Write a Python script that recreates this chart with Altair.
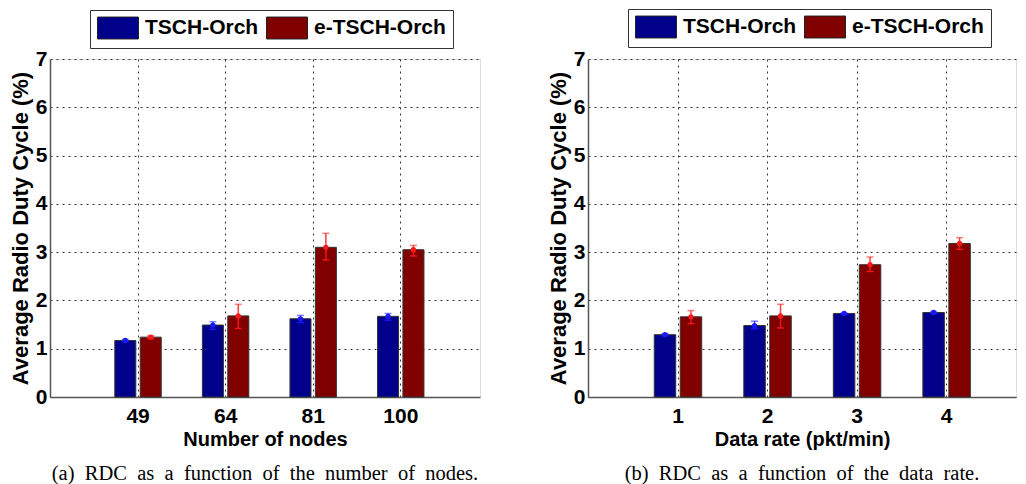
import altair as alt
import pandas as pd

series = ["TSCH-Orch", "e-TSCH-Orch"]
colors = ["#00008B", "#800000"]
err_colors = ["#1a1aff", "#ff1a1a"]

# Panel (a): number of nodes
nodes_labels = ["49", "64", "81", "100"]
nodes_tsch = [1.17, 1.49, 1.62, 1.67]
nodes_tsch_lo = [1.15, 1.40, 1.54, 1.59]
nodes_tsch_hi = [1.19, 1.56, 1.69, 1.73]
nodes_etsch = [1.24, 1.68, 3.10, 3.05]
nodes_etsch_lo = [1.21, 1.42, 2.84, 2.92]
nodes_etsch_hi = [1.27, 1.92, 3.39, 3.14]

# Panel (b): data rate
rate_labels = ["1", "2", "3", "4"]
rate_tsch = [1.29, 1.48, 1.73, 1.75]
rate_tsch_lo = [1.27, 1.41, 1.72, 1.73]
rate_tsch_hi = [1.31, 1.57, 1.74, 1.77]
rate_etsch = [1.66, 1.68, 2.74, 3.18]
rate_etsch_lo = [1.52, 1.43, 2.60, 3.06]
rate_etsch_hi = [1.79, 1.92, 2.90, 3.30]

y_ticks = [0, 1, 2, 3, 4, 5, 6, 7]
SANS = "Liberation Sans"
SERIF = "Liberation Serif"
GRID_DASH = [2, 4]


def panel(labels, tsch, tsch_lo, tsch_hi, et, et_lo, et_hi, xtitle, caption, width, xmax, lx, ly):
    rows = []
    for i, lab in enumerate(labels):
        rows.append(dict(idx=i + 1, label=lab, series=series[0], value=tsch[i], lo=tsch_lo[i], hi=tsch_hi[i]))
        rows.append(dict(idx=i + 1, label=lab, series=series[1], value=et[i], lo=et_lo[i], hi=et_hi[i]))
    df = pd.DataFrame(rows)

    label_expr = "[''," + ",".join("'%s'" % l for l in labels) + "][datum.value]"

    xscale = alt.Scale(domain=[0, xmax], nice=False, zero=False)
    yscale = alt.Scale(domain=[0, 7], nice=False)

    base = alt.Chart(df).transform_calculate(
        x0="datum.idx + (datum.series == 'TSCH-Orch' ? -0.26 : 0.03)"
    ).transform_calculate(
        x1="datum.x0 + 0.24",
        xc="datum.x0 + 0.12",
        c0="datum.x0 + 0.08",
        c1="datum.x0 + 0.16",
    )

    xaxis = alt.Axis(
        values=[1, 2, 3, 4], labelExpr=label_expr, title=xtitle,
        grid=True, gridDash=GRID_DASH, gridColor="#333", gridWidth=1,
        ticks=False, domainColor="#555", domainWidth=1.5,
        labelFont=SANS, labelFontSize=21, labelFontWeight="bold", labelColor="black",
        labelPadding=8, titleFont=SANS, titleFontSize=20, titleFontWeight="bold",
        titleColor="black", titlePadding=3,
    )
    yaxis = alt.Axis(
        values=y_ticks, title="Average Radio Duty Cycle (%)",
        grid=True, gridDash=GRID_DASH, gridColor="#333", gridWidth=1,
        ticks=False, domainColor="#555", domainWidth=1.5,
        labelFont=SANS, labelFontSize=21, labelFontWeight="bold", labelColor="black",
        labelPadding=3, titleFont=SANS, titleFontSize=22, titleFontWeight="bold",
        titleColor="black", titlePadding=3,
    )

    bars = base.mark_bar(stroke="#333", strokeWidth=1).encode(
        x=alt.X("x0:Q", scale=xscale, axis=xaxis),
        x2="x1:Q",
        y=alt.Y("value:Q", scale=yscale, axis=yaxis),
        y2=alt.datum(0),
        color=alt.Color(
            "series:N",
            scale=alt.Scale(domain=series, range=colors),
            legend=alt.Legend(
                title=None, orient="none", legendX=lx, legendY=ly, direction="horizontal",
                symbolType="M-2,-1.07H2V1.07H-2Z", symbolSize=420, symbolOffset=10,
                symbolStrokeColor="#222", symbolStrokeWidth=1, symbolOpacity=1,
                labelFont=SANS, labelFontSize=21, labelFontWeight="bold", labelColor="black",
                labelLimit=400, labelOffset=16, columnPadding=5,
                strokeColor="#333", fillColor="white", padding=7,
            ),
        ),
    )

    ecolor = alt.Color("series:N", scale=alt.Scale(domain=series, range=err_colors), legend=None)

    stems = base.mark_rule(strokeWidth=1.5, opacity=0.85).encode(
        x="xc:Q", y="lo:Q", y2="hi:Q", color=ecolor
    )
    cap_hi = base.mark_rule(strokeWidth=1.5, opacity=0.55).encode(
        x="c0:Q", x2="c1:Q", y="hi:Q", color=ecolor
    )
    cap_lo = base.mark_rule(strokeWidth=1.5, opacity=0.85).encode(
        x="c0:Q", x2="c1:Q", y="lo:Q", color=ecolor
    )
    dots = base.mark_point(filled=True, size=28, opacity=1).encode(
        x="xc:Q", y="value:Q", color=ecolor
    )

    return alt.layer(bars, stems, cap_hi, cap_lo, dots).resolve_scale(color="independent").properties(
        width=width, height=338,
        title=alt.TitleParams(
            text=caption, orient="bottom", font=SERIF, fontSize=20.5, fontWeight="normal",
            color="black", offset=15, limit=600,
        ),
    )


left = panel(nodes_labels, nodes_tsch, nodes_tsch_lo, nodes_tsch_hi,
             nodes_etsch, nodes_etsch_lo, nodes_etsch_hi,
             "Number of nodes", "(a)\u2002RDC\u2002as\u2002a\u2002function\u2002of\u2002the\u2002number\u2002of\u2002nodes.",
             430, 4.91, 40, -49)
right = panel(rate_labels, rate_tsch, rate_tsch_lo, rate_tsch_hi,
              rate_etsch, rate_etsch_lo, rate_etsch_hi,
              "Data rate (pkt/min)", "(b)\u2002RDC\u2002as\u2002a\u2002function\u2002of\u2002the\u2002data\u2002rate.",
              428, 4.78, 40, -50)

chart = alt.hconcat(left, right, spacing=65).resolve_scale(color="independent").resolve_legend(
    color="independent"
).properties(padding=0).configure_view(stroke=None).configure(background="white")

chart.save("out.html", embed_options={"renderer": "svg", "actions": False})
